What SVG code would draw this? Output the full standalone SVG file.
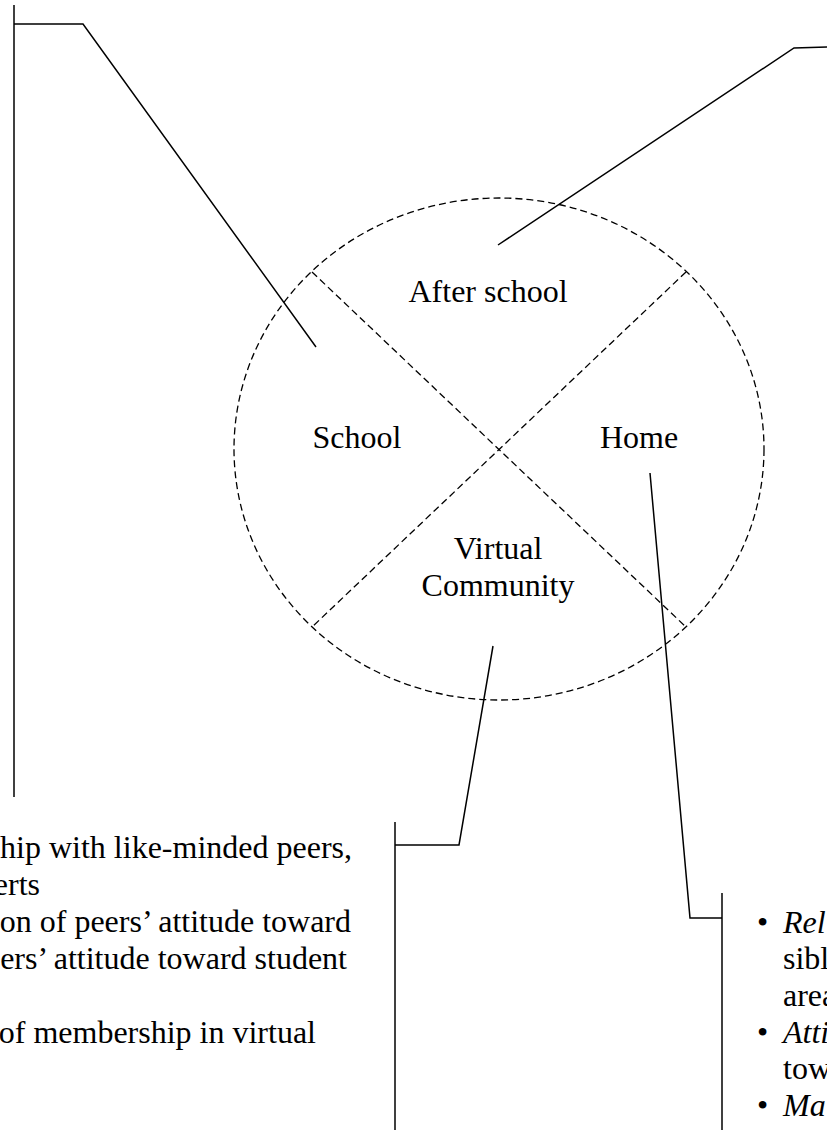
<svg xmlns="http://www.w3.org/2000/svg" width="827" height="1130" viewBox="0 0 827 1130">
<style>
.t{font-family:"Liberation Serif","Times New Roman",serif;font-size:32px;fill:#000}
.i{font-style:italic}
.d{fill:none;stroke:#000;stroke-width:1.3;stroke-dasharray:7 4}
.s{fill:none;stroke:#000;stroke-width:1.5}
</style>
<rect width="827" height="1130" fill="#fff"/>
<g id="circle">
<ellipse class="d" cx="499" cy="449" rx="265" ry="251"/>
<line class="d" x1="312" y1="272" x2="686" y2="627"/>
<line class="d" x1="686" y1="272" x2="312" y2="627"/>
</g>
<g id="after-school"><text class="t" x="488" y="302" text-anchor="middle">After school</text></g>
<g id="school"><text class="t" x="357" y="448" text-anchor="middle">School</text></g>
<g id="home"><text class="t" x="639" y="448" text-anchor="middle">Home</text></g>
<g id="virtual-community">
<text class="t" x="498" y="559" text-anchor="middle">Virtual</text>
<text class="t" x="498" y="596" text-anchor="middle">Community</text>
</g>
<g id="connectors">
<polyline class="s" points="316,347 83,24 14,24"/>
<line class="s" x1="14" y1="5" x2="14" y2="797"/>
<polyline class="s" points="498,245 794,48 827,47"/>
<polyline class="s" points="650,473 690,918 722,918"/>
<line class="s" x1="722" y1="893" x2="722" y2="1130"/>
<polyline class="s" points="493,646 459,845 395,845"/>
<line class="s" x1="395" y1="822" x2="395" y2="1130"/>
</g>
<g id="school-box">
<text class="t" x="352" y="858" text-anchor="end">hip with like-minded peers,</text>
<text class="t" x="40" y="895" text-anchor="end">erts</text>
<text class="t" x="351" y="932" text-anchor="end">on of peers’ attitude toward</text>
<text class="t" x="347" y="969" text-anchor="end">ers’ attitude toward student</text>
<text class="t" x="316" y="1043" text-anchor="end">of membership in virtual</text>
</g>
<g id="home-box">
<text class="t" x="757" y="933">•</text>
<text class="t i" x="783" y="933">Rel</text>
<text class="t" x="783" y="969">sibl</text>
<text class="t" x="783" y="1006">area</text>
<text class="t" x="757" y="1043">•</text>
<text class="t i" x="783" y="1043">Atti</text>
<text class="t" x="783" y="1079">tow</text>
<text class="t" x="757" y="1116">•</text>
<text class="t i" x="783" y="1116">Ma</text>
</g>
</svg>
